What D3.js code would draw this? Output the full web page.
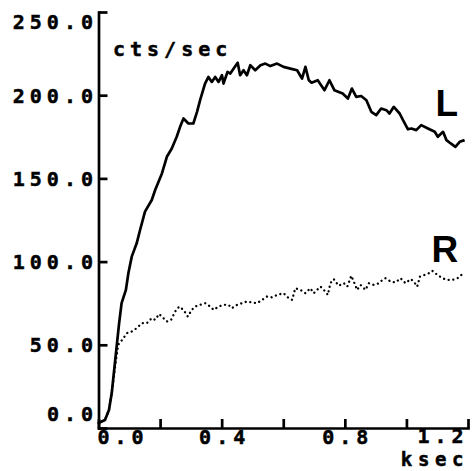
<!DOCTYPE html>
<html><head><meta charset="utf-8">
<script src="https://cdn.jsdelivr.net/npm/d3@7"></script>
<style>
html,body{margin:0;padding:0;background:#fff;}
svg{display:block}
.mono{font-family:'DejaVu Sans Mono',monospace;font-weight:bold;font-size:20px;letter-spacing:5px;fill:#000;stroke:#000;stroke-width:0.5px}
.unitx{font-size:19px;letter-spacing:5.6px}
.big{font-family:'Liberation Sans',Arial,sans-serif;font-weight:bold;font-size:37px;fill:#000}
</style></head><body>
<script>
// ---- data ----
const yTicks = [0, 50, 100, 150, 200, 250];
const yTickLabels = ["0.0", "50.0", "100.0", "150.0", "200.0", "250.0"];
const xTicks = [0, 0.2, 0.4, 0.6, 0.8, 1.0, 1.2];
const xTickLabels = ["0.0", "", "0.4", "", "0.8", "", "1.2"];
const yUnit = "cts/sec";
const xUnit = "ksec";
const seriesNames = ["L", "R"];

const lTime = [0,0.021,0.034,0.043,0.051,0.059,0.067,0.075,0.089,0.097,0.108,0.124,0.135,0.151,0.173,0.184,0.206,0.222,0.238,0.254,0.265,0.276,0.292,0.308,0.320,0.330,0.346,0.357,0.368,0.379,0.390,0.401,0.406,0.419,0.428,0.439,0.452,0.460,0.471,0.482,0.493,0.509,0.526,0.542,0.558,0.580,0.601,0.623,0.645,0.661,0.672,0.683,0.692,0.712,0.734,0.750,0.766,0.793,0.810,0.823,0.837,0.853,0.870,0.886,0.902,0.918,0.935,0.945,0.959,0.978,0.989,1.005,1.016,1.032,1.048,1.070,1.092,1.102,1.119,1.130,1.144,1.159,1.173,1.189];
const lRate = [3,4.8,10.8,21,35,49,63,75,83,93,103,111,119,130,137,143,153,163,168,175,181,186,183,183,190,197,207,211,208,211,208,212,207,214,213,216,219.5,212,215,212,218,215,218,219,217.5,219,217,216,215,210,217,209,207.5,209,203,209,203,201,198,204,199,199.5,197,190,188,192,191,189,193,189,185,179.5,180,179,182,180,178,175,178,173,171,169,172,173];

const rTime = [0,0.021,0.034,0.043,0.054,0.064,0.081,0.092,0.108,0.124,0.141,0.157,0.173,0.184,0.197,0.211,0.222,0.236,0.249,0.262,0.276,0.290,0.303,0.314,0.330,0.347,0.363,0.374,0.390,0.406,0.422,0.433,0.450,0.466,0.482,0.499,0.515,0.531,0.547,0.564,0.580,0.601,0.618,0.629,0.639,0.656,0.672,0.688,0.699,0.710,0.721,0.732,0.745,0.753,0.764,0.780,0.797,0.808,0.821,0.829,0.840,0.851,0.867,0.878,0.894,0.911,0.922,0.932,0.949,0.965,0.981,0.997,1.014,1.024,1.035,1.044,1.059,1.073,1.084,1.101,1.117,1.133,1.149,1.166,1.185];
const rRate = [3,4.8,10.8,21,37,50,54,57,58,60,63,63,66,65,68.5,66,64,65,70,73,71,67,71,73,74,75,73,71,73,74,74,72,74,75,76,75.5,75,77,79,78.5,80,81,78,77,84,83,81,84,81,83,85,83,80,87,89.5,85.5,87,85,91.5,88,83,86,83,87,86,87,89,90,88,87.5,90,87,89.5,88,85,91,92,93,94.5,92,90,89,89,90,93];

// ---- chart ----
const W = 474, H = 471;
const x = d3.scaleLinear().domain([0, 1.2]).range([98.5, 468]);
const y = d3.scaleLinear().domain([0, 250]).range([428, 12]);

const svg = d3.select("body").append("svg").attr("width", W).attr("height", H);

// y axis
const yAxis = d3.axisLeft(y).tickValues(yTicks).tickSizeInner(-9).tickSizeOuter(0)
  .tickFormat((d, i) => yTickLabels[i]);
const gy = svg.append("g").attr("transform", `translate(${x(0)},0)`).call(yAxis)
  .attr("font-size", null).attr("font-family", null);
gy.select(".domain").attr("stroke", "#000").attr("stroke-width", 2.7).attr("stroke-linecap", "square");
gy.selectAll(".tick line").attr("stroke", "#000").attr("stroke-width", 2.7);
gy.selectAll(".tick text").attr("class", "mono").attr("x", -0.5)
  .attr("dy", d => d === 250 ? "16.5" : d === 0 ? "-8" : "7");

// x axis
const xAxis = d3.axisBottom(x).tickValues(xTicks).tickSizeInner(-9).tickSizeOuter(0)
  .tickFormat((d, i) => xTickLabels[i]);
const gx = svg.append("g").attr("transform", `translate(0,${y(0)})`).call(xAxis)
  .attr("font-size", null).attr("font-family", null);
gx.select(".domain").attr("stroke", "#000").attr("stroke-width", 2.7).attr("stroke-linecap", "square");
gx.selectAll(".tick line").attr("stroke", "#000").attr("stroke-width", 2.7);
gx.selectAll(".tick text").attr("class", "mono").attr("y", 16)
  .attr("dy", (d, i) => i === xTicks.length - 1 ? -1 : 0)
  .attr("text-anchor", (d, i) => i === 0 ? "start" : i === xTicks.length - 1 ? "end" : "middle")
  .attr("dx", (d, i) => i === 0 ? -1.5 : i === xTicks.length - 1 ? 0 : 2.5);

// unit labels
svg.append("text").attr("class", "mono").attr("x", 113).attr("y", 56).text(yUnit);
svg.append("text").attr("class", "mono unitx").attr("x", 469).attr("y", 466).attr("text-anchor", "end").text(xUnit);

// lines
const line = d3.line().x(d => x(d.t)).y(d => y(d.v));
const lData = lTime.map((t, i) => ({t, v: lRate[i]}));
const rData = rTime.map((t, i) => ({t, v: rRate[i]}));

svg.append("path").datum(rData).attr("d", line).attr("fill", "none")
  .attr("stroke", "#000").attr("stroke-width", 2.3).attr("stroke-linecap", "round")
  .attr("stroke-dasharray", "0.1 4.6");
svg.append("path").datum(lData).attr("d", line).attr("fill", "none")
  .attr("stroke", "#000").attr("stroke-width", 2.7).attr("stroke-linejoin", "round");

// series labels
svg.append("text").attr("class", "big").attr("x", 435.5).attr("y", 116).text(seriesNames[0]);
svg.append("text").attr("class", "big").attr("x", 431.5).attr("y", 262).text(seriesNames[1]);
</script>
</body></html>
